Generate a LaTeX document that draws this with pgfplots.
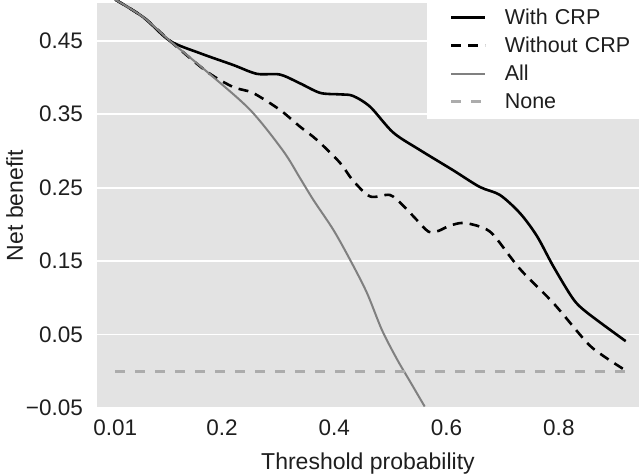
\documentclass[border=0pt]{standalone}
\usepackage{pgfplots}
\pgfplotsset{compat=1.18}
\usepackage{fontspec}
\setmainfont{Liberation Sans}
\definecolor{panelbg}{RGB}{227,227,227}
\definecolor{allgray}{RGB}{128,128,128}
\definecolor{nonegray}{RGB}{172,172,172}
\definecolor{txt}{RGB}{30,30,30}

\begin{document}
\begin{tikzpicture}
\begin{axis}[
  at={(0bp,0bp)}, anchor=south west,
  scale only axis, width=542bp, height=405bp,
  xmin=-0.0226, xmax=0.9427, ymin=-0.05, ymax=0.5014,
  clip=false,
  axis background/.style={fill=panelbg},
  axis line style={draw=none},
  major tick length=0pt,
  xtick={0.01,0.2,0.4,0.6,0.8}, xticklabels={0.01,0.2,0.4,0.6,0.8},
  ytick={-0.05,0.05,0.15,0.25,0.35,0.45},
  yticklabels={−0.05,0.05,0.15,0.25,0.35,0.45},
  ymajorgrids, grid style={white, line width=1.8bp},
  tick label style={font=\fontsize{22.5bp}{27bp}\selectfont, text=txt},
  xticklabel style={anchor=north, inner sep=0pt, yshift=-12bp},
  yticklabel style={anchor=east, inner sep=0pt, xshift=-14bp},
  xlabel={Threshold probability}, ylabel={Net benefit},
  label style={font=\fontsize{23bp}{28bp}\selectfont, text=txt, inner sep=0pt},
  xlabel style={at={([yshift=-61bp]axis description cs:0.5,0)}, anchor=base},
  ylabel style={at={([xshift=-74bp]axis description cs:0,0.5)}, anchor=base},
  legend style={at={(axis description cs:1,1)}, anchor=north east,
    xshift=2bp, yshift=3bp, draw=none, fill=white,
    inner xsep=0pt, inner ysep=7.5bp, row sep=8bp,
    font=\fontsize{21.5bp}{26bp}\selectfont, text=txt,
    nodes={inner sep=0pt, text height=17bp, text depth=3bp, text width=136bp, align=left},
    /tikz/every odd column/.style={column sep=18bp}},
  legend cell align=left,
  legend image code/.code={\path (-23bp,0bp); \draw[#1] (0bp,0bp) -- (34bp,0bp);},
]
\addplot[black, line width=2.6bp, smooth, tension=0.5] coordinates {
(0.01,0.506) (0.06,0.482) (0.107,0.450) (0.161,0.433) (0.22,0.417)
(0.262,0.405) (0.303,0.404) (0.339,0.392) (0.375,0.379) (0.41,0.377)
(0.433,0.375) (0.464,0.360) (0.505,0.325) (0.553,0.301) (0.611,0.274)
(0.659,0.251) (0.695,0.240) (0.731,0.215) (0.761,0.184) (0.79,0.143)
(0.825,0.099) (0.85,0.080) (0.919,0.041)};
\addlegendentry{With CRP}
\addplot[black, line width=2.6bp, dash pattern=on 10bp off 7bp, smooth, tension=0.5] coordinates {
(0.01,0.506) (0.06,0.482) (0.107,0.450) (0.173,0.408) (0.22,0.387)
(0.255,0.379) (0.303,0.356) (0.339,0.333) (0.369,0.315) (0.41,0.284)
(0.433,0.260) (0.464,0.238) (0.499,0.240) (0.522,0.226) (0.547,0.206)
(0.568,0.190) (0.585,0.191) (0.605,0.198) (0.629,0.202) (0.659,0.197)
(0.683,0.186) (0.731,0.139) (0.79,0.093) (0.85,0.039) (0.879,0.021)
(0.919,0.001)};
\addlegendentry{Without CRP}
\addplot[allgray, line width=2bp, smooth, tension=0.5] coordinates {
(0.01,0.506) (0.06,0.482) (0.107,0.450) (0.173,0.408) (0.25,0.356)
(0.309,0.300) (0.339,0.263) (0.363,0.233) (0.398,0.193) (0.428,0.152)
(0.458,0.107) (0.485,0.056) (0.512,0.016) (0.535,-0.014) (0.561,-0.048)};
\addlegendentry{All}
\addplot[nonegray, line width=2.6bp, dash pattern=on 10bp off 10bp] coordinates {
(0.01,0) (0.919,0)};
\addlegendentry{None}
\end{axis}
\pgfresetboundingbox
\useasboundingbox (-97bp,-68bp) rectangle (544bp,408bp);
\end{tikzpicture}
\end{document}
